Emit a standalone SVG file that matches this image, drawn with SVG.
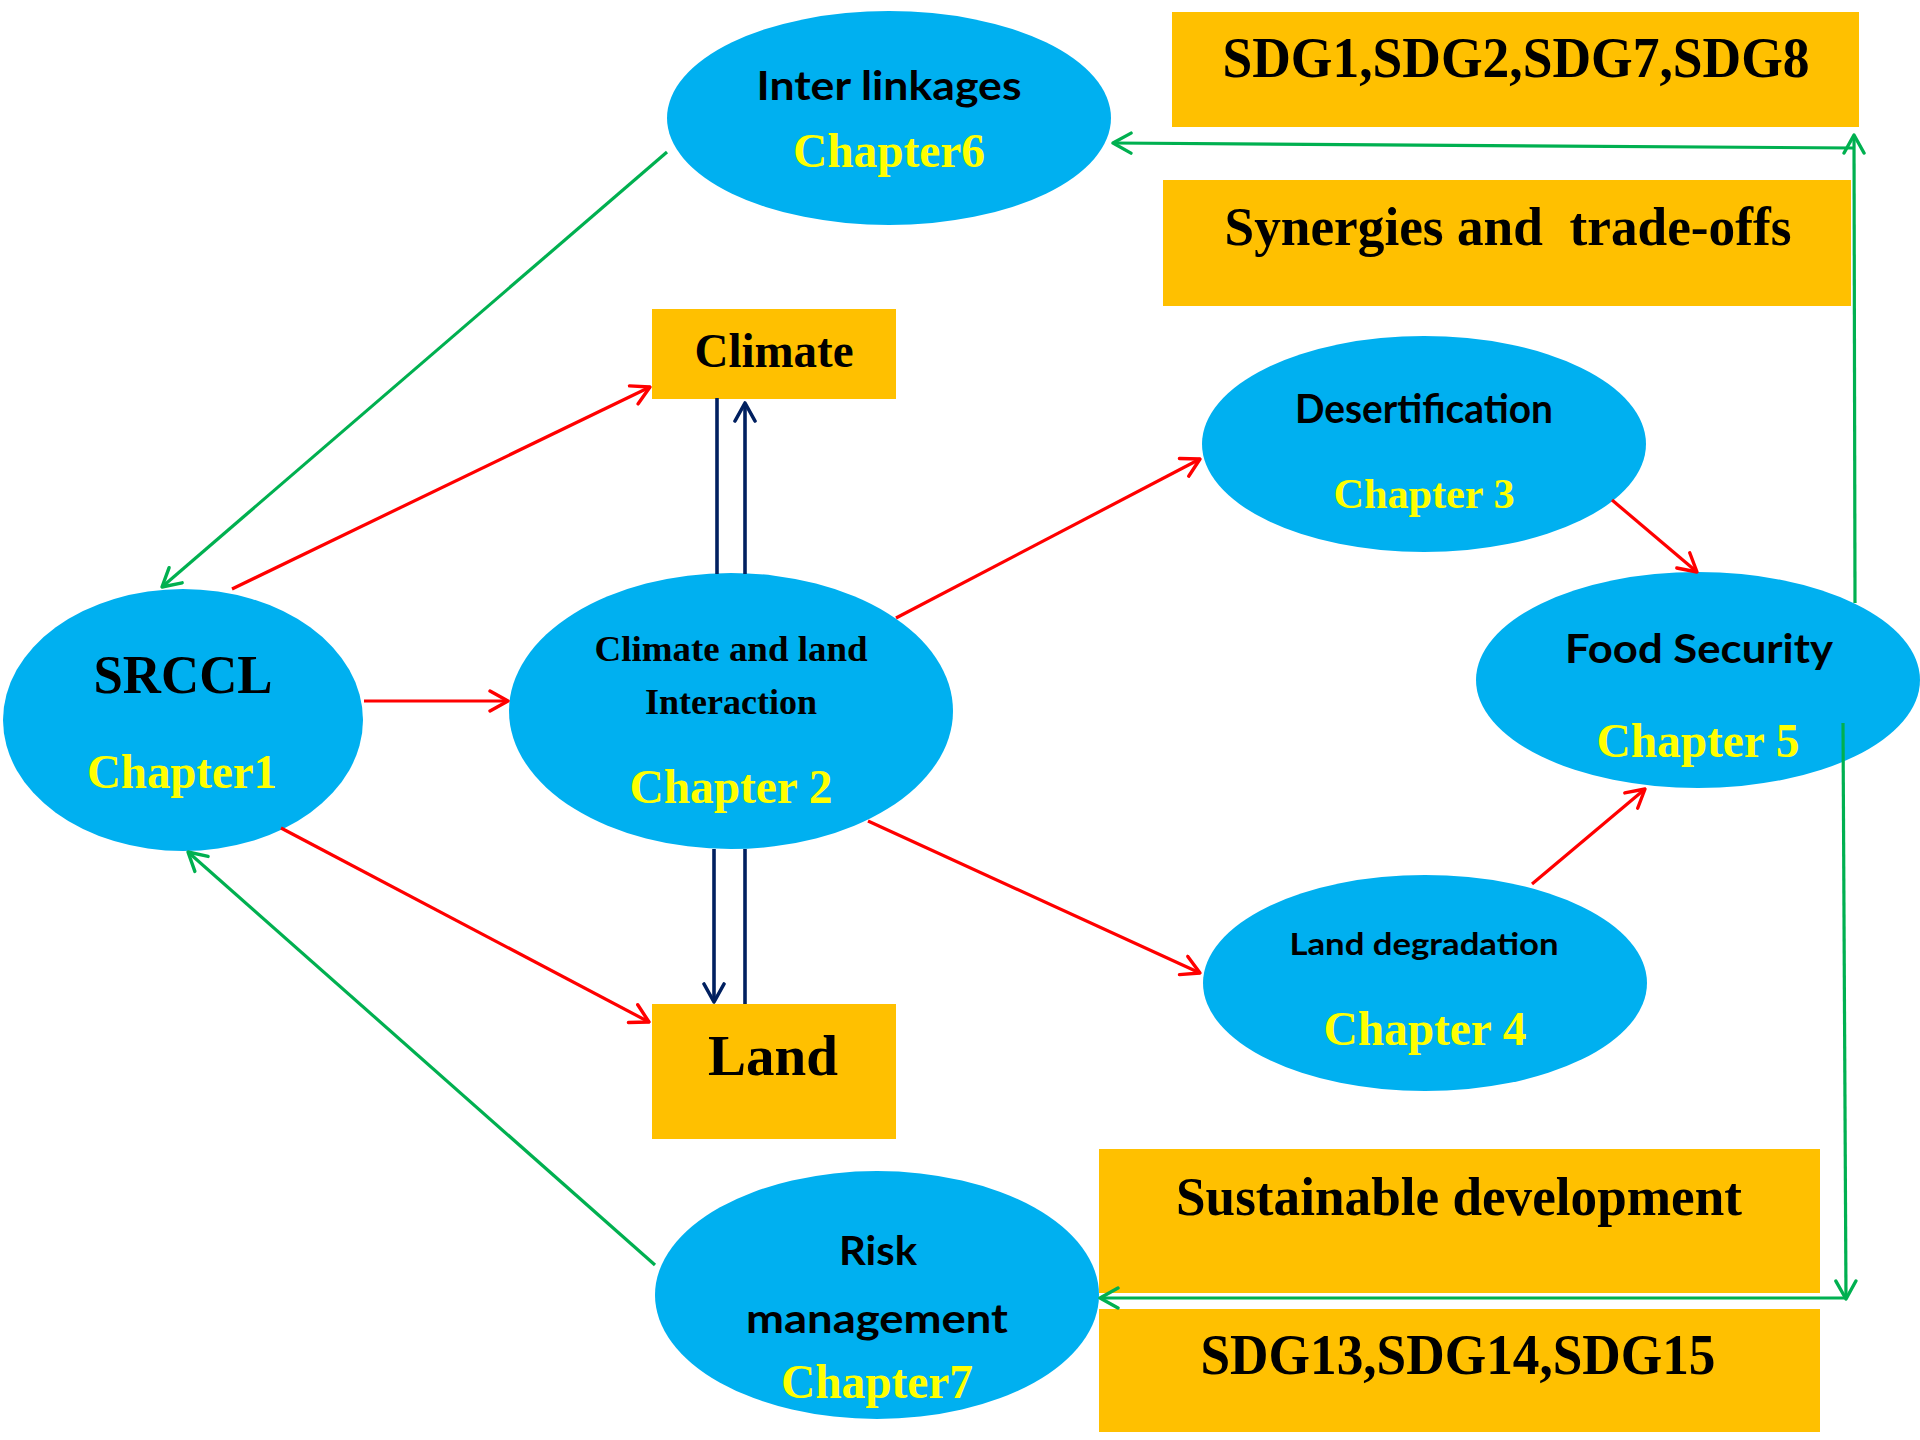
<svg xmlns="http://www.w3.org/2000/svg" width="1920" height="1440" viewBox="0 0 1920 1440">
<style>
.ell{fill:#00B0F0}
.box{fill:#FFC000}
.serif{font-family:"Liberation Serif","Times New Roman",serif;font-weight:bold;text-anchor:middle}
.sans{font-family:Lato,"Open Sans",sans-serif;font-weight:bold;text-anchor:middle;fill:#000}
.blk{fill:#000}
.yel{fill:#FFFF00}
.red{stroke:#FF0000;stroke-width:3.2;fill:none}
.grn{stroke:#00B050;stroke-width:3.2;fill:none}
.nav{stroke:#002060;stroke-width:3.6;fill:none}
</style>
<defs>
<marker id="aR" viewBox="0 0 22 24" refX="20" refY="12" markerWidth="22" markerHeight="24" markerUnits="userSpaceOnUse" orient="auto"><path d="M2,2 L20,12 L2,22" fill="none" stroke="#FF0000" stroke-width="3.4" stroke-linecap="round" stroke-linejoin="round"/></marker>
<marker id="aG" viewBox="0 0 22 24" refX="20" refY="12" markerWidth="22" markerHeight="24" markerUnits="userSpaceOnUse" orient="auto"><path d="M2,2 L20,12 L2,22" fill="none" stroke="#00B050" stroke-width="3.4" stroke-linecap="round" stroke-linejoin="round"/></marker>
<marker id="aN" viewBox="0 0 22 24" refX="20" refY="12" markerWidth="22" markerHeight="24" markerUnits="userSpaceOnUse" orient="auto"><path d="M2,2 L20,12 L2,22" fill="none" stroke="#002060" stroke-width="3.6" stroke-linecap="round" stroke-linejoin="round"/></marker>
</defs>
<rect width="1920" height="1440" fill="#fff"/>

<g id="inter-linkages">
<ellipse class="ell" cx="889" cy="118" rx="222" ry="107"/>
<text class="sans" x="889" y="100" font-size="40" textLength="265" lengthAdjust="spacingAndGlyphs">Inter linkages</text>
<text class="serif yel" x="889" y="167" font-size="48" textLength="192" lengthAdjust="spacingAndGlyphs">Chapter6</text>
</g>
<g id="sdg-top">
<rect class="box" x="1172" y="12" width="687" height="115"/>
<text class="serif blk" x="1516" y="77" font-size="56" textLength="587" lengthAdjust="spacingAndGlyphs">SDG1,SDG2,SDG7,SDG8</text>
</g>
<g id="synergies">
<rect class="box" x="1163" y="180" width="688" height="126"/>
<text class="serif blk" x="1508" y="245" font-size="54" textLength="567" lengthAdjust="spacingAndGlyphs" xml:space="preserve">Synergies and  trade-offs</text>
</g>
<g id="climate">
<rect class="box" x="652" y="309" width="244" height="90"/>
<text class="serif blk" x="774" y="367" font-size="48" textLength="159" lengthAdjust="spacingAndGlyphs">Climate</text>
</g>
<g id="desertification">
<ellipse class="ell" cx="1424" cy="444" rx="222" ry="108"/>
<text class="sans" x="1424" y="423" font-size="40" textLength="258" lengthAdjust="spacingAndGlyphs">Desertification</text>
<text class="serif yel" x="1424" y="508" font-size="43" textLength="181" lengthAdjust="spacingAndGlyphs">Chapter 3</text>
</g>
<g id="srccl">
<ellipse class="ell" cx="183" cy="720" rx="180" ry="131"/>
<text class="serif blk" x="183" y="693" font-size="54" textLength="179" lengthAdjust="spacingAndGlyphs">SRCCL</text>
<text class="serif yel" x="182" y="788" font-size="48" textLength="190" lengthAdjust="spacingAndGlyphs">Chapter1</text>
</g>
<g id="climate-land">
<ellipse class="ell" cx="731" cy="711" rx="222" ry="138"/>
<text class="serif blk" x="731" y="661" font-size="36" textLength="273" lengthAdjust="spacingAndGlyphs">Climate and land</text>
<text class="serif blk" x="731" y="714" font-size="36">Interaction</text>
<text class="serif yel" x="731" y="803" font-size="48" textLength="203" lengthAdjust="spacingAndGlyphs">Chapter 2</text>
</g>
<g id="food-security">
<ellipse class="ell" cx="1698" cy="680" rx="222" ry="108"/>
<text class="sans" x="1699" y="663" font-size="40" textLength="268" lengthAdjust="spacingAndGlyphs">Food Security</text>
<text class="serif yel" x="1698" y="757" font-size="48" textLength="203" lengthAdjust="spacingAndGlyphs">Chapter 5</text>
</g>
<g id="land-degradation">
<ellipse class="ell" cx="1425" cy="983" rx="222" ry="108"/>
<text class="sans" x="1424" y="955" font-size="31" textLength="269" lengthAdjust="spacingAndGlyphs">Land degradation</text>
<text class="serif yel" x="1425" y="1045" font-size="48" textLength="203" lengthAdjust="spacingAndGlyphs">Chapter 4</text>
</g>
<g id="land">
<rect class="box" x="652" y="1004" width="244" height="135"/>
<text class="serif blk" x="773" y="1075" font-size="58" textLength="130" lengthAdjust="spacingAndGlyphs">Land</text>
</g>
<g id="risk-management">
<ellipse class="ell" cx="877" cy="1295" rx="222" ry="124"/>
<text class="sans" x="878" y="1265" font-size="40" textLength="78" lengthAdjust="spacingAndGlyphs">Risk</text>
<text class="sans" x="877" y="1333" font-size="40" textLength="262" lengthAdjust="spacingAndGlyphs">management</text>
<text class="serif yel" x="877" y="1398" font-size="48" textLength="192" lengthAdjust="spacingAndGlyphs">Chapter7</text>
</g>
<g id="sustainable-development">
<rect class="box" x="1099" y="1149" width="721" height="144"/>
<text class="serif blk" x="1459" y="1215" font-size="55" textLength="566" lengthAdjust="spacingAndGlyphs">Sustainable development</text>
</g>
<g id="sdg-bottom">
<rect class="box" x="1099" y="1309" width="721" height="123"/>
<text class="serif blk" x="1458" y="1374" font-size="56" textLength="515" lengthAdjust="spacingAndGlyphs">SDG13,SDG14,SDG15</text>
</g>

<g id="connectors">
<line class="red" x1="364" y1="701" x2="508" y2="701" marker-end="url(#aR)"/>
<line class="red" x1="232" y1="589" x2="650" y2="387" marker-end="url(#aR)"/>
<line class="red" x1="281" y1="828" x2="649" y2="1022" marker-end="url(#aR)"/>
<line class="red" x1="896" y1="618" x2="1200" y2="459" marker-end="url(#aR)"/>
<line class="red" x1="868" y1="821" x2="1200" y2="973" marker-end="url(#aR)"/>
<line class="red" x1="1612" y1="500" x2="1697" y2="572" marker-end="url(#aR)"/>
<line class="red" x1="1532" y1="884" x2="1645" y2="789" marker-end="url(#aR)"/>
<line class="nav" x1="717" y1="574" x2="717" y2="398"/>
<line class="nav" x1="745" y1="574" x2="745" y2="403" marker-end="url(#aN)"/>
<line class="nav" x1="714" y1="849" x2="714" y2="1002" marker-end="url(#aN)"/>
<line class="nav" x1="745" y1="849" x2="745" y2="1004"/>
<line class="grn" x1="667" y1="152" x2="162" y2="587" marker-end="url(#aG)"/>
<line class="grn" x1="655" y1="1265" x2="188" y2="852" marker-end="url(#aG)"/>
<line class="grn" x1="1855" y1="603" x2="1854" y2="135" marker-end="url(#aG)"/>
<line class="grn" x1="1853" y1="148" x2="1113" y2="143" marker-end="url(#aG)"/>
<line class="grn" x1="1843" y1="723" x2="1846" y2="1299" marker-end="url(#aG)"/>
<line class="grn" x1="1846" y1="1298" x2="1100" y2="1298" marker-end="url(#aG)"/>
</g>
</svg>
